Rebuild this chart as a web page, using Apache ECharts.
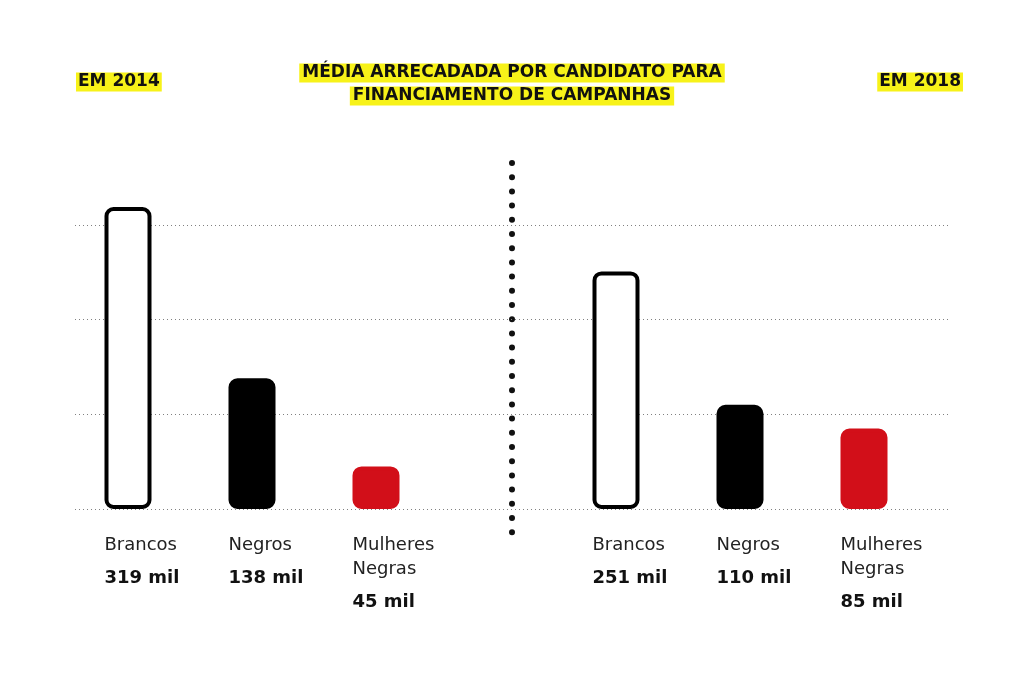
<!DOCTYPE html>
<html><head><meta charset="utf-8">
<script src="https://cdn.jsdelivr.net/npm/echarts@6/dist/echarts.min.js"></script>
<style>html,body{margin:0;padding:0;background:#fff}#c{width:1024px;height:677px}</style>
</head><body><div id="c"></div>
<script>
const categories = ['Brancos', 'Negros', 'Mulheres Negras'];
const values2014 = [319, 138, 45];
const values2018 = [251, 110, 85];
const yearLabels = ['EM 2014', 'EM 2018'];
const titleLines = ['MÉDIA ARRECADADA POR CANDIDATO PARA', 'FINANCIAMENTO DE CAMPANHAS'];
const yTicks = [0, 100, 200, 300];

const barColors = ['#ffffff', '#000000', '#d20f19'];
const borderColors = ['#000000', '#000000', '#d20f19'];
const FONT = '"DejaVu Sans", sans-serif';
const YEL = '#f7f219';

function labelFmt(p) {
  const lines = p.name.split(' ').map(s => '{n|' + s + '}');
  lines.push('{v|' + p.value + ' mil}');
  return lines.join('\n');
}

function barSeries(vals, idx) {
  return {
    type: 'bar', xAxisIndex: idx, yAxisIndex: idx, barWidth: 47, clip: false,
    data: vals.map((v, i) => ({
      value: v, name: categories[i],
      itemStyle: { color: barColors[i], borderColor: borderColors[i], borderWidth: 4, borderRadius: 7 }
    })),
    label: {
      show: true, position: [0, '100%'], offset: [0, 24], align: 'left', verticalAlign: 'top',
      formatter: labelFmt,
      rich: {
        n: { fontFamily: FONT, fontSize: 18, color: '#222', lineHeight: 24 },
        v: { fontFamily: FONT, fontSize: 18, fontWeight: 'bold', color: '#111', lineHeight: 42 }
      }
    },
    emphasis: { disabled: true }, silent: true
  };
}

const yAx = (g, show) => ({
  type: 'value', gridIndex: g, min: yTicks[0], max: yTicks[yTicks.length - 1], interval: 100,
  axisLine: { show: false }, axisTick: { show: false }, axisLabel: { show: false },
  splitLine: { show: show, lineStyle: { color: '#808080', width: 1, type: [1, 3] } }
});
const xAx = (g, data) => ({
  type: 'category', gridIndex: g, data: data, show: false
});

const chart = echarts.init(document.getElementById('c'), null, { renderer: 'canvas' });
chart.setOption({
  animation: false,
  backgroundColor: '#fff',
  grid: [
    { left: 75, right: 76, top: 225, bottom: 168 },
    { left: 66, width: 372, top: 225, bottom: 168 },
    { left: 554, width: 372, top: 225, bottom: 168 }
  ],
  xAxis: [xAx(0, ['a']), xAx(1, categories), xAx(2, categories)],
  yAxis: [yAx(0, true), yAx(1, false), yAx(2, false)],
  series: [barSeries(values2014, 1), barSeries(values2018, 2)],
  graphic: [
    { type: 'line', shape: { x1: 512, y1: 163, x2: 512, y2: 533 },
      style: { stroke: '#111', lineWidth: 6, lineDash: [0, 14.2], lineCap: 'round' }, silent: true },
    { type: 'text', x: 512, y: 73, style: { text: titleLines[0], font: 'bold 17px ' + FONT, fill: '#111',
      align: 'center', verticalAlign: 'middle', backgroundColor: YEL, padding: [2, 3, 0, 3] } },
    { type: 'text', x: 512, y: 96, style: { text: titleLines[1], font: 'bold 17px ' + FONT, fill: '#111',
      align: 'center', verticalAlign: 'middle', backgroundColor: YEL, padding: [2, 3, 0, 3] } },
    { type: 'text', x: 76, y: 82, style: { text: yearLabels[0], font: 'bold 17px ' + FONT, fill: '#111',
      align: 'left', verticalAlign: 'middle', backgroundColor: YEL, padding: [2, 2, 0, 2] } },
    { type: 'text', x: 963, y: 82, style: { text: yearLabels[1], font: 'bold 17px ' + FONT, fill: '#111',
      align: 'right', verticalAlign: 'middle', backgroundColor: YEL, padding: [2, 2, 0, 2] } }
  ]
});
</script></body></html>
